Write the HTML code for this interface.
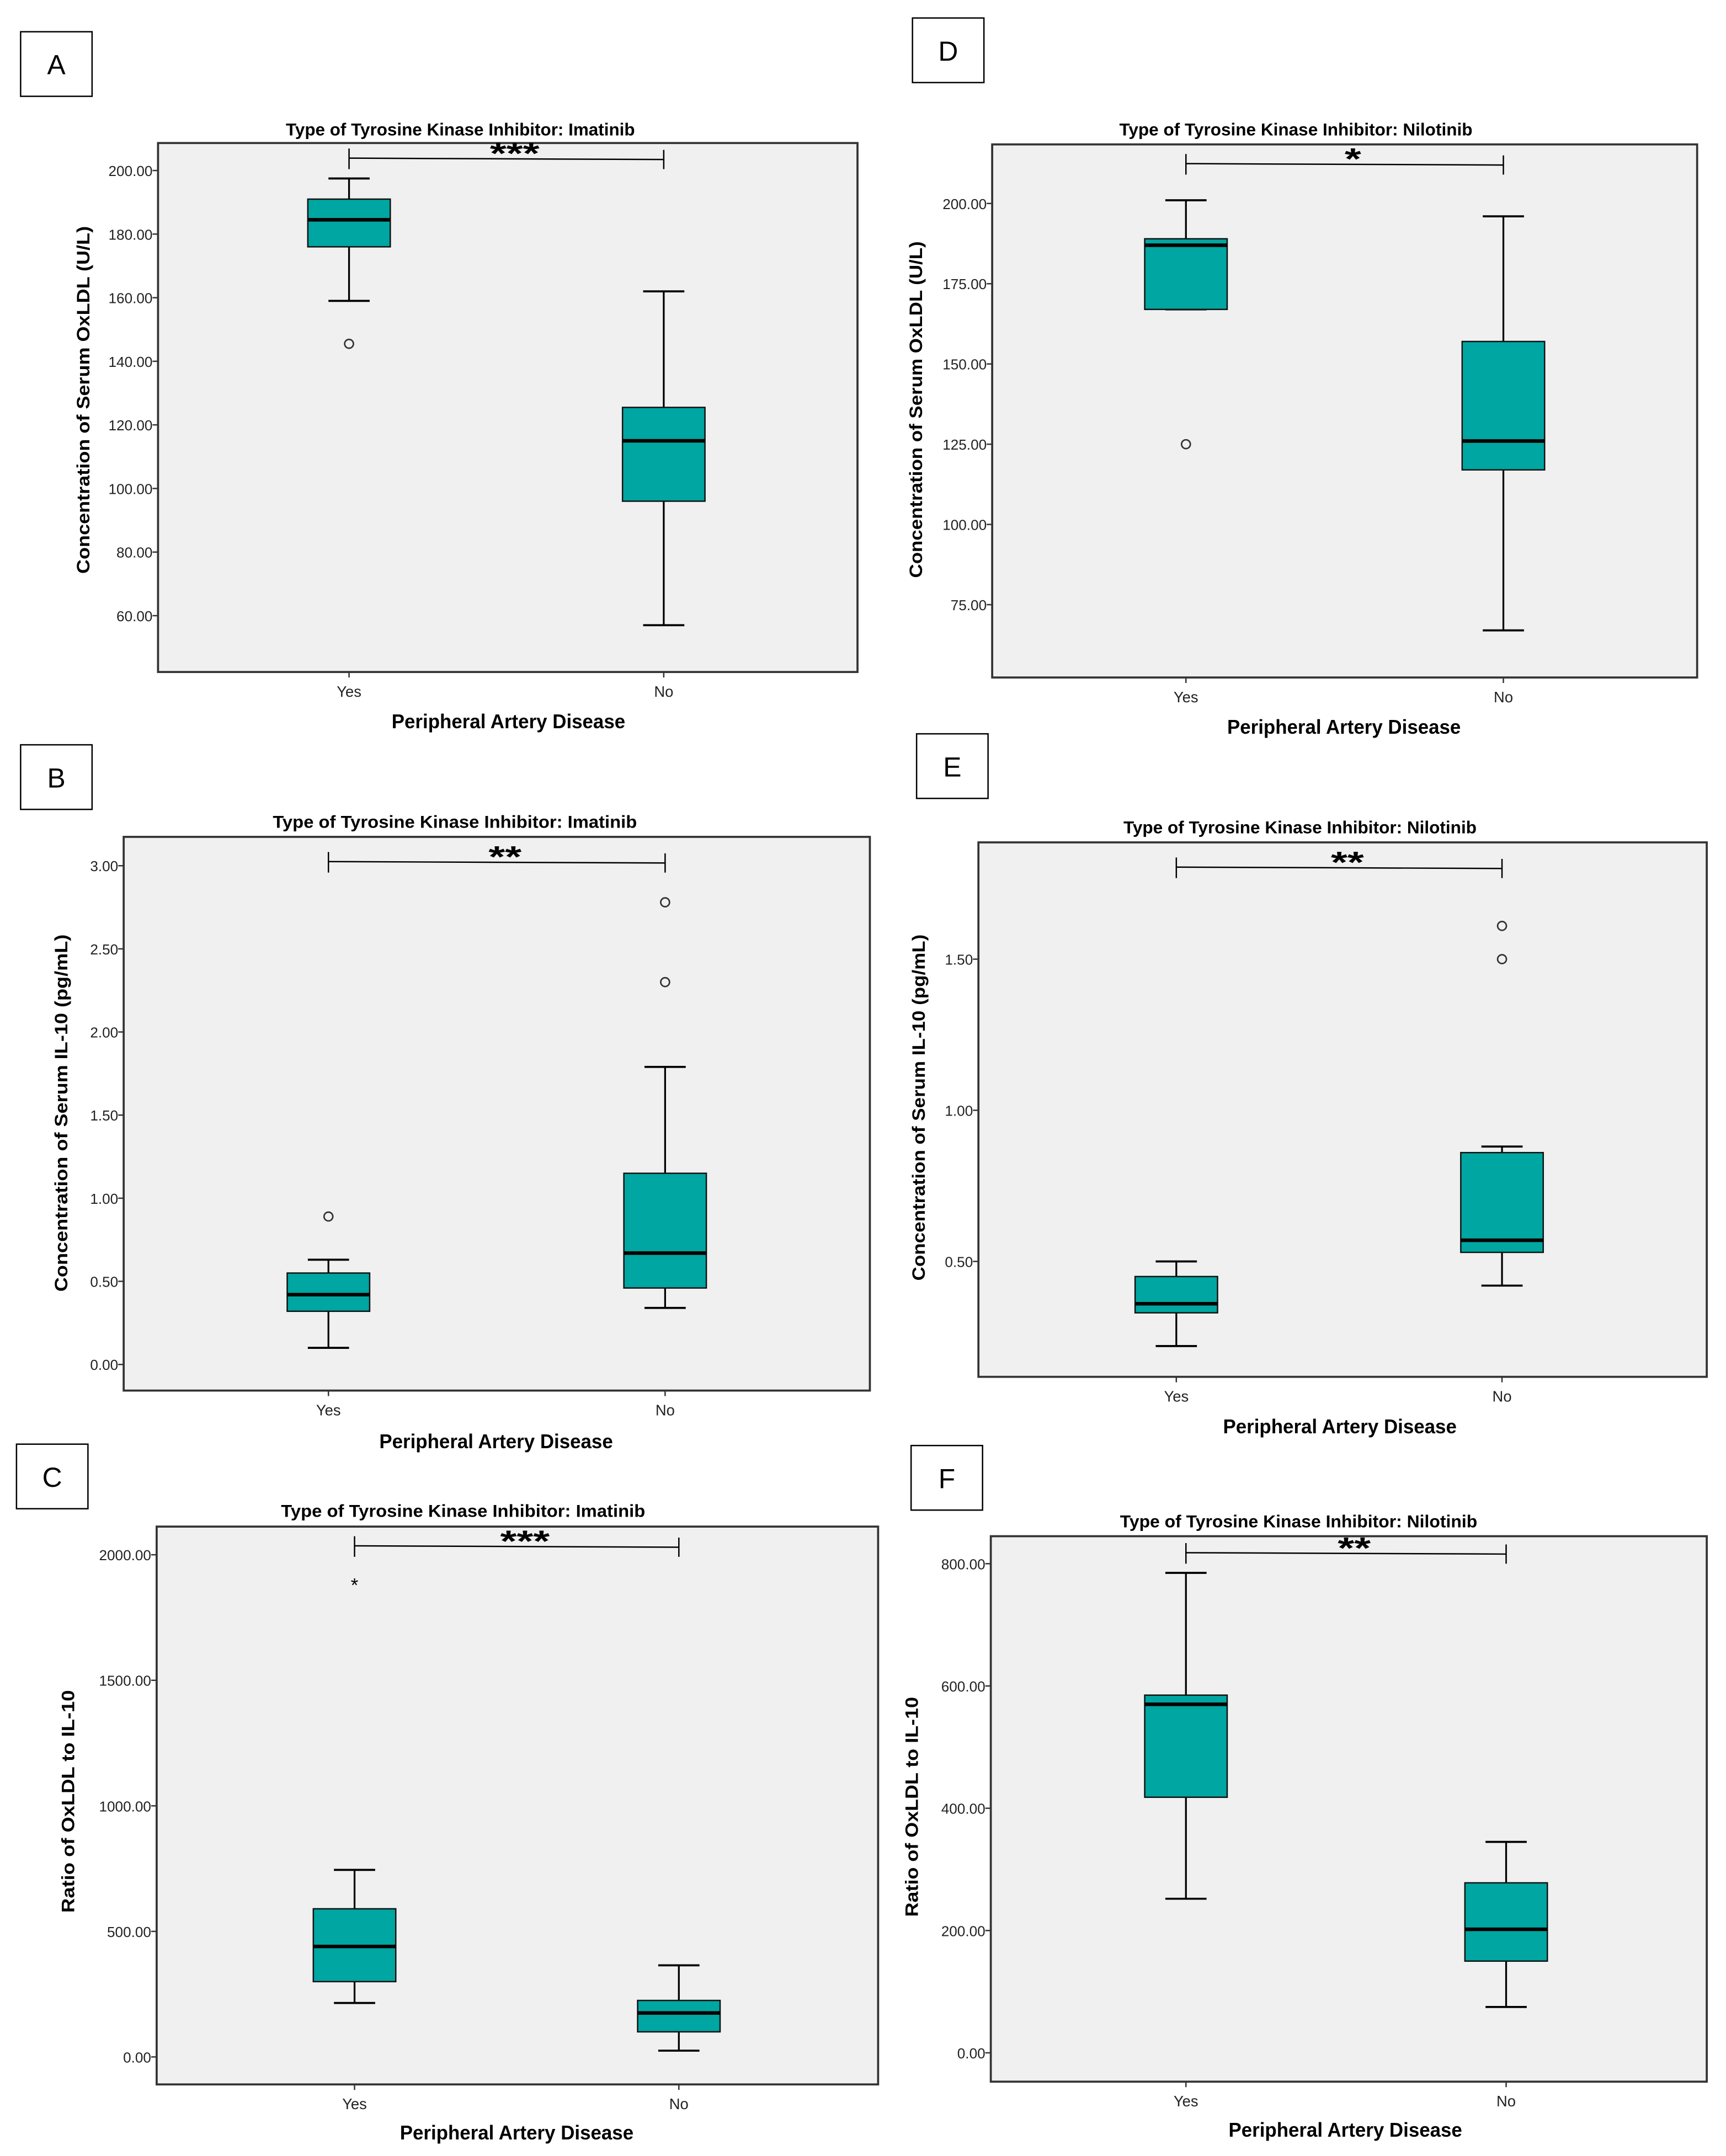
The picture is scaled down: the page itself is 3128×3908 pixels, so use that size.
<!DOCTYPE html>
<html><head><meta charset="utf-8"><style>
html,body{margin:0;padding:0;background:#fff}
svg{display:block}
text{font-family:"Liberation Sans Narrow","Liberation Sans",Arial,sans-serif}
.wide{font-family:"Liberation Sans",Arial,sans-serif}
</style></head><body>
<svg id="fig" width="3128" height="3908" viewBox="0 0 1256 1569" xmlns="http://www.w3.org/2000/svg"></svg>
<script>
// Panel data arrays
const categories = ["Yes", "No"];
// A: OxLDL Imatinib
const aQ1 = [176, 96], aMed = [184.5, 115], aQ3 = [191, 125.5], aLo = [159, 57], aHi = [197.5, 162];
const aOut = [[145.5], []];
const aTicks = [60, 80, 100, 120, 140, 160, 180, 200];
// D: OxLDL Nilotinib
const dQ1 = [167, 117], dMed = [187, 126], dQ3 = [189, 157], dLo = [167, 67], dHi = [201, 196];
const dOut = [[125], []];
const dTicks = [75, 100, 125, 150, 175, 200];
// B: IL-10 Imatinib
const bQ1 = [0.32, 0.46], bMed = [0.42, 0.67], bQ3 = [0.55, 1.15], bLo = [0.10, 0.34], bHi = [0.63, 1.79];
const bOut = [[0.89], [2.30, 2.78]];
const bTicks = [0, 0.5, 1, 1.5, 2, 2.5, 3];
// E: IL-10 Nilotinib
const eQ1 = [0.33, 0.53], eMed = [0.36, 0.57], eQ3 = [0.45, 0.86], eLo = [0.22, 0.42], eHi = [0.50, 0.88];
const eOut = [[], [1.50, 1.61]];
const eTicks = [0.5, 1.0, 1.5];
// C: Ratio Imatinib
const cQ1 = [300, 100], cMed = [440, 175], cQ3 = [590, 225], cLo = [215, 25], cHi = [745, 365];
const cExt = [[1890], []];
const cTicks = [0, 500, 1000, 1500, 2000];
// F: Ratio Nilotinib
const fQ1 = [418, 150], fMed = [570, 202], fQ3 = [585, 278], fLo = [252, 75], fHi = [785, 345];
const fTicks = [0, 200, 400, 600, 800];

const NS = "http://www.w3.org/2000/svg";
const svg = document.getElementById("fig");
function mk(tag, attrs, parent, txt) {
  const e = document.createElementNS(NS, tag);
  for (const k in attrs) e.setAttribute(k, attrs[k]);
  if (txt !== undefined) e.textContent = txt;
  (parent || svg).appendChild(e);
  return e;
}

function panel(p) {
  const g = mk("g", {});
  
  
  const y = v => p.yA + (v - p.vA) * (p.yB - p.yA) / (p.vB - p.vA);
  const lb = mk("rect", {x: p.lb[0], y: p.lb[1], width: 52, height: 47, fill: "#fff", stroke: "#000", "stroke-width": 1}, g);
  
  
  const lt = mk("text", {x: p.lb[0] + 26, y: p.lb[1] + 31, "text-anchor": "middle", "font-size": 20, class: "wide"}, g, p.letter);
  
  
  const pa = mk("rect", {x: p.box[0], y: p.box[1], width: p.box[2] - p.box[0], height: p.box[3] - p.box[1], fill: "#f0f0f0", stroke: "#333", "stroke-width": 1.5}, g);
  
  
  const t = mk("text", {x: p.tpos[0], y: p.tpos[1], "text-anchor": "middle", "font-size": 12.5, "font-weight": "bold", textLength: p.tlen, lengthAdjust: "spacingAndGlyphs"}, g, p.title);
  
  
  p.ticks.forEach(v => {
    const yy = y(v);
    mk("line", {x1: p.box[0] - 4, x2: p.box[0], y1: yy, y2: yy, stroke: "#333", "stroke-width": 1}, g);
    const tl = mk("text", {x: p.box[0] - 4, y: yy + 4, "text-anchor": "end", "font-size": 10.5, fill: "#222"}, g, v.toFixed(2));
    
    
  });
  const yt = mk("text", {x: 0, y: 0, transform: `translate(${p.yTitle[0]},${p.yTitle[1]}) rotate(-90)`, "text-anchor": "middle", "font-size": 13, "font-weight": "bold", class: "wide", textLength: p.ylen, lengthAdjust: "spacingAndGlyphs"}, g, p.yLabel);
  
  
  categories.forEach((c, i) => {
    const xx = p.xs[i];
    mk("line", {x1: xx, x2: xx, y1: p.box[3], y2: p.box[3] + 4, stroke: "#333"}, g);
    const xl = mk("text", {x: xx, y: p.box[3] + 18, "text-anchor": "middle", "font-size": 11, fill: "#222"}, g, c);
    
    
  });
  const xt = mk("text", {x: p.xTitle[0], y: p.xTitle[1], "text-anchor": "middle", "font-size": 14.5, "font-weight": "bold", textLength: 170, lengthAdjust: "spacingAndGlyphs"}, g, "Peripheral Artery Disease");
  
  
  const w = 60;
  categories.forEach((c, i) => {
    const xx = p.xs[i];
    const bg = mk("g", {}, g);
    
    
    mk("line", {x1: xx, x2: xx, y1: y(p.hi[i]), y2: y(p.lo[i]), stroke: "#000", "stroke-width": 1.3}, bg);
    mk("line", {x1: xx - w / 4, x2: xx + w / 4, y1: y(p.hi[i]), y2: y(p.hi[i]), stroke: "#000", "stroke-width": 1.5}, bg);
    mk("line", {x1: xx - w / 4, x2: xx + w / 4, y1: y(p.lo[i]), y2: y(p.lo[i]), stroke: "#000", "stroke-width": 1.5}, bg);
    mk("rect", {x: xx - w / 2, y: y(p.q3[i]), width: w, height: y(p.q1[i]) - y(p.q3[i]), fill: "#00a6a1", stroke: "#111", "stroke-width": 1}, bg);
    mk("line", {x1: xx - w / 2, x2: xx + w / 2, y1: y(p.med[i]), y2: y(p.med[i]), stroke: "#000", "stroke-width": 2.6}, bg);
    (p.out ? p.out[i] : []).forEach(v => {
      const o = mk("circle", {cx: xx, cy: y(v), r: 3.2, fill: "none", stroke: "#333", "stroke-width": 1.1}, bg);
      
      
    });
    (p.ext ? p.ext[i] : []).forEach(v => {
      const o = mk("text", {x: xx, y: y(v) + 7, "text-anchor": "middle", "font-size": 14}, bg, "*");
      
      
    });
  });
  const by = p.brY;
  const br = mk("g", {}, g);
  
  
  mk("line", {x1: p.xs[0], x2: p.xs[1], y1: by, y2: by + 1, stroke: "#000", "stroke-width": 1}, br);
  mk("line", {x1: p.xs[0], x2: p.xs[0], y1: by - 7, y2: by + 8, stroke: "#000", "stroke-width": 1}, br);
  mk("line", {x1: p.xs[1], x2: p.xs[1], y1: by - 6, y2: by + 8, stroke: "#000", "stroke-width": 1}, br);
  const st = mk("text", {x: (p.xs[0] + p.xs[1]) / 2 + 6, y: by + 4, "text-anchor": "middle", "font-size": 22, "font-weight": "bold", class: "wide", textLength: p.stars.length * 12, lengthAdjust: "spacingAndGlyphs"}, br, p.stars);
  
  
}

const oxTitle = "Concentration of Serum OxLDL (U/L)";
const ilTitle = "Concentration of Serum IL-10 (pg/mL)";
const raTitle = "Ratio of OxLDL to IL-10";
const imT = "Type of Tyrosine Kinase Inhibitor: Imatinib";
const niT = "Type of Tyrosine Kinase Inhibitor: Nilotinib";

panel({letter: "A", lb: [15, 23], box: [115, 104, 624, 489], title: imT, tpos: [335, 98.5], tlen: 254, yLabel: oxTitle, yTitle: [65, 291], ylen: 253, xTitle: [370, 530],
  xs: [254, 483], vA: 200, yA: 124, vB: 60, yB: 448, ticks: aTicks, q1: aQ1, med: aMed, q3: aQ3, lo: aLo, hi: aHi, out: aOut, brY: 115, stars: "***"});
panel({letter: "D", lb: [664, 13], box: [722, 105, 1235, 493], title: niT, tpos: [943, 98.5], tlen: 257, yLabel: oxTitle, yTitle: [671, 298], ylen: 245, xTitle: [978, 534],
  xs: [863, 1094], vA: 200, yA: 148, vB: 75, yB: 440, ticks: dTicks, q1: dQ1, med: dMed, q3: dQ3, lo: dLo, hi: dHi, out: dOut, brY: 119, stars: "*"});
panel({letter: "B", lb: [15, 542], box: [90, 609, 633, 1012], title: imT, tpos: [331, 602.5], tlen: 265, yLabel: ilTitle, yTitle: [49, 810], ylen: 260, xTitle: [361, 1054],
  xs: [239, 484], vA: 3, yA: 630, vB: 0, yB: 993, ticks: bTicks, q1: bQ1, med: bMed, q3: bQ3, lo: bLo, hi: bHi, out: bOut, brY: 627, stars: "**"});
panel({letter: "E", lb: [667, 534], box: [712, 613, 1242, 1002], title: niT, tpos: [946, 606.5], tlen: 257, yLabel: ilTitle, yTitle: [673, 806], ylen: 252, xTitle: [975, 1043],
  xs: [856, 1093], vA: 1.5, yA: 698, vB: 0.5, yB: 918, ticks: eTicks, q1: eQ1, med: eMed, q3: eQ3, lo: eLo, hi: eHi, out: eOut, brY: 631, stars: "**"});
panel({letter: "C", lb: [12, 1051], box: [114, 1111, 639, 1517], title: imT, tpos: [337, 1104], tlen: 265, yLabel: raTitle, yTitle: [54, 1311], ylen: 162, xTitle: [376, 1557],
  xs: [258, 494], vA: 2000, yA: 1131.5, vB: 0, yB: 1497, ticks: cTicks, q1: cQ1, med: cMed, q3: cQ3, lo: cLo, hi: cHi, ext: cExt, brY: 1125, stars: "***"});
panel({letter: "F", lb: [663, 1052], box: [721, 1118, 1242, 1515], title: niT, tpos: [945, 1111.5], tlen: 260, yLabel: raTitle, yTitle: [668, 1315], ylen: 160, xTitle: [979, 1555],
  xs: [863, 1096], vA: 800, yA: 1138, vB: 0, yB: 1494, ticks: fTicks, q1: fQ1, med: fMed, q3: fQ3, lo: fLo, hi: fHi, brY: 1130, stars: "**"});
</script>
</body></html>
